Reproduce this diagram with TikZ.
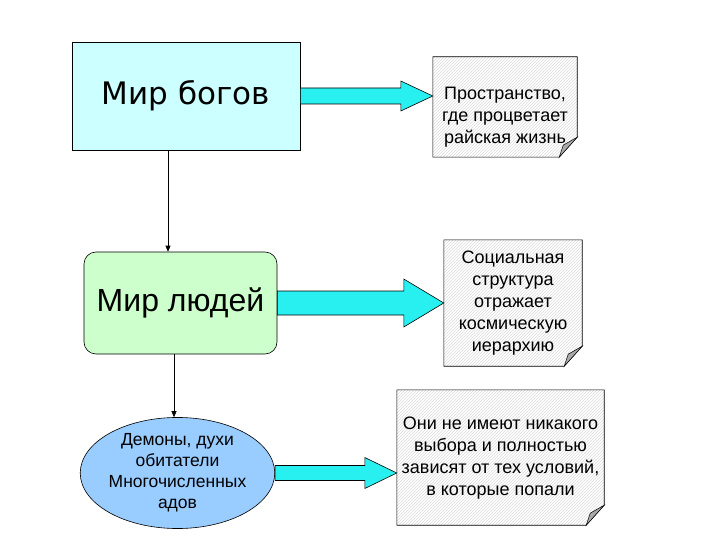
\documentclass[tikz,border=0pt]{standalone}
\usepackage{fontspec}
\setmainfont{Liberation Sans}
\newfontfamily\widesans{DejaVu Sans}
\usepackage{tikz}
\usetikzlibrary{arrows.meta, positioning, calc, shapes.geometric, patterns}
\definecolor{godfill}{RGB}{204,255,255}
\definecolor{peoplefill}{RGB}{204,255,204}
\definecolor{demonfill}{RGB}{153,204,255}
\definecolor{arrowcyan}{RGB}{40,240,240}
\definecolor{foldgray}{RGB}{170,170,170}

% block arrow: from, to, shaft half width, head half width, head length
\newcommand{\blockarrow}[5]{%
  \draw[barrow] let \p1=(#1.east), \p2=(#2.west) in
    (\x1,\y1+#3) -- (\x2-#5,\y1+#3) -- (\x2-#5,\y1+#4) -- (\x2,\y1)
    -- (\x2-#5,\y1-#4) -- (\x2-#5,\y1-#3) -- (\x1,\y1-#3) -- cycle;}

% note paper with a folded corner
\newcommand{\notepaper}[1]{%
  \fill[white] (#1.north west) -- (#1.north east) -- ([yshift=20pt]#1.south east)
    -- ([xshift=-18pt]#1.south east) -- (#1.south west) -- cycle;
  \draw[notefill] (#1.north west) -- (#1.north east) -- ([yshift=20pt]#1.south east)
    -- ([xshift=-18pt]#1.south east) -- (#1.south west) -- cycle;
  \draw[fill=foldgray, line width=0.5pt] ([yshift=20pt]#1.south east) -- ([xshift=-18pt]#1.south east)
    -- ([xshift=-14pt,yshift=12pt]#1.south east) -- cycle;}

\begin{document}
\begin{tikzpicture}[
		x=1pt, y=-1pt,
		world/.style={draw, line width=0.6pt, align=center, font=\fontsize{32}{38}\selectfont},
		notebox/.style={align=center, inner sep=0pt, font=\fontsize{18}{22}\selectfont},
		notefill/.style={pattern=north east lines, pattern color=black!14, line width=0.6pt},
		barrow/.style={fill=arrowcyan, draw=black, line width=0.6pt, line join=miter},
		link/.style={-{Triangle[length=6pt,width=5pt]}, line width=0.6pt}
		]
		\useasboundingbox (0,0) rectangle (720,540);
		
		% Nodes
		\node[world, fill=godfill, minimum width=228pt, minimum height=108pt,
			font=\widesans\fontsize{31}{38}\selectfont] (gods) at (186,96) {Мир богов};
		\node[world, fill=peoplefill, rounded corners=12pt, minimum width=193pt,
			minimum height=102pt] (people) at (180.5,303) {Мир людей};
		\node[world, ellipse, fill=demonfill, inner sep=0pt, minimum width=185pt,
			minimum height=90pt, font=\fontsize{17.5}{21}\selectfont] (demons) at (177.5,473)
			{Демоны, духи\\обитатели\\Многочисленных\\адов};
		
		\node[notebox, minimum width=144pt, minimum height=100pt] (note1) at (505,107) {};
		\node[notebox, minimum width=138pt, minimum height=126pt] (note2) at (513,303) {};
		\node[notebox, minimum width=207pt, minimum height=135pt] (note3) at (500.5,457.5) {};
		\notepaper{note1}
		\notepaper{note2}
		\notepaper{note3}
		\node[notebox] at ([yshift=-10pt]note1.center) {Пространство,\\где процветает\\райская жизнь};
		\node[notebox] at (note2.center) {Социальная\\структура\\отражает\\космическую\\иерархию};
		\node[notebox] at ([yshift=-1pt]note3.center) {Они не имеют никакого\\выбора и полностью\\зависят от тех условий,\\в которые попали};
		
		% Arrows
		\draw[link] ([xshift=-18pt]gods.south) -- ([xshift=-12.5pt]people.north);
		\draw[link] ([xshift=-6.5pt]people.south) -- ([xshift=-3.5pt]demons.north);
		\blockarrow{gods}{note1}{8pt}{15pt}{32pt}
		\blockarrow{people}{note2}{12pt}{24pt}{40pt}
		\blockarrow{demons}{note3}{7.5pt}{15.5pt}{32pt}
		
\end{tikzpicture}
\end{document}
